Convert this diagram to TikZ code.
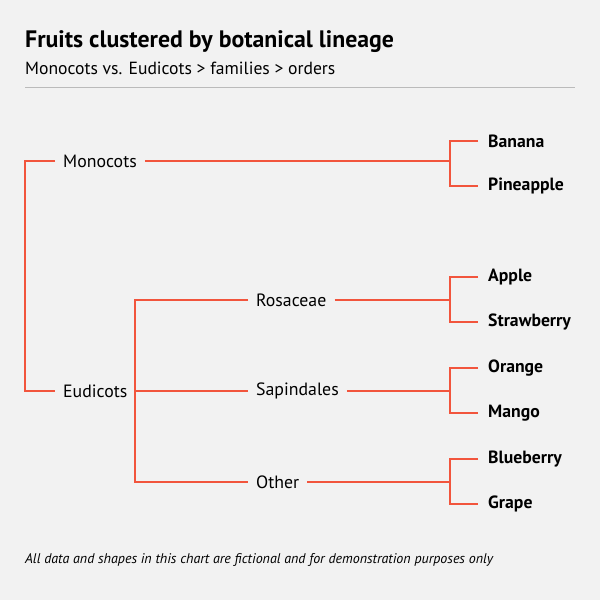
\documentclass[tikz,border=0pt]{standalone}
\usepackage{fontspec}
\setmainfont{PT Sans}
\usetikzlibrary{positioning}
\definecolor{bg}{HTML}{F2F2F2}
\definecolor{branch}{HTML}{F2553D}
\definecolor{rulegray}{HTML}{BBBBBB}
\tikzset{
	edge/.style={draw=branch, line width=1.1pt},
	clade/.style={anchor=west, inner xsep=8pt, inner ysep=2pt, font=\fontsize{17.8}{21}\selectfont},
	fruit/.style={anchor=west, inner xsep=10pt, inner ysep=2pt, font=\fontsize{17.7}{21}\selectfont\bfseries}
}
\begin{document}
\begin{tikzpicture}[x=1pt, y=-1pt]
	\fill[bg] (0,0) rectangle (600,600);
	\useasboundingbox (0,0) rectangle (600,600);

	% heading
	\node(title) at (25,42) [anchor=west, inner sep=0pt, font=\fontsize{23.8}{28}\selectfont\bfseries] {Fruits clustered by botanical lineage};
	\node(subtitle) at (25,68) [anchor=west, inner sep=0pt, font=\fontsize{17.6}{21}\selectfont] {Monocots vs. Eudicots > families > orders};
	\draw[rulegray, line width=0.8pt] (25,87) -- (575,87);

	% clades
	\coordinate(root) at (25,276);
	\node(mono) at (55,161) [clade] {Monocots};
	\node(eudi) at (55,391) [clade] {Eudicots};
	\node(ros) at (248,300) [clade] {Rosaceae};
	\node(sap) at (248,391) [clade] {Sapindales};
	\node(oth) at (248,482) [clade] {Other};

	% junctions
	\coordinate(jmono) at (450,161);
	\coordinate(jeudi) at (135,391);
	\coordinate(jros) at (450,300);
	\coordinate(jsap) at (450,391);
	\coordinate(joth) at (450,482);

	% fruits
	\node(banana) at (478,141) [fruit] {Banana};
	\node(pineapple) at (478,186) [fruit] {Pineapple};
	\node(apple) at (478,277) [fruit] {Apple};
	\node(strawberry) at (478,322) [fruit] {Strawberry};
	\node(orange) at (478,368) [fruit] {Orange};
	\node(mango) at (478,413) [fruit] {Mango};
	\node(blueberry) at (478,459) [fruit] {Blueberry};
	\node(grape) at (478,504) [fruit] {Grape};

	% branches
	\draw[edge] (mono.west) -| (root) |- (eudi.west);
	\draw[edge] (mono.east) -- (jmono);
	\draw[edge] (banana.west) -| (jmono) |- (pineapple.west);
	\draw[edge] (eudi.east) -- (jeudi);
	\draw[edge] (ros.west) -| (jeudi) |- (oth.west);
	\draw[edge] (jeudi) -- (sap.west);
	\draw[edge] (ros.east) -- (jros);
	\draw[edge] (sap.east) -- (jsap);
	\draw[edge] (oth.east) -- (joth);
	\draw[edge] (apple.west) -| (jros) |- (strawberry.west);
	\draw[edge] (orange.west) -| (jsap) |- (mango.west);
	\draw[edge] (blueberry.west) -| (joth) |- (grape.west);

	% footnote
	\node(note) at (25,560) [anchor=west, inner sep=0pt, font=\fontsize{14}{17}\selectfont\itshape] {All data and shapes in this chart are fictional and for demonstration purposes only};
\end{tikzpicture}
\end{document}
